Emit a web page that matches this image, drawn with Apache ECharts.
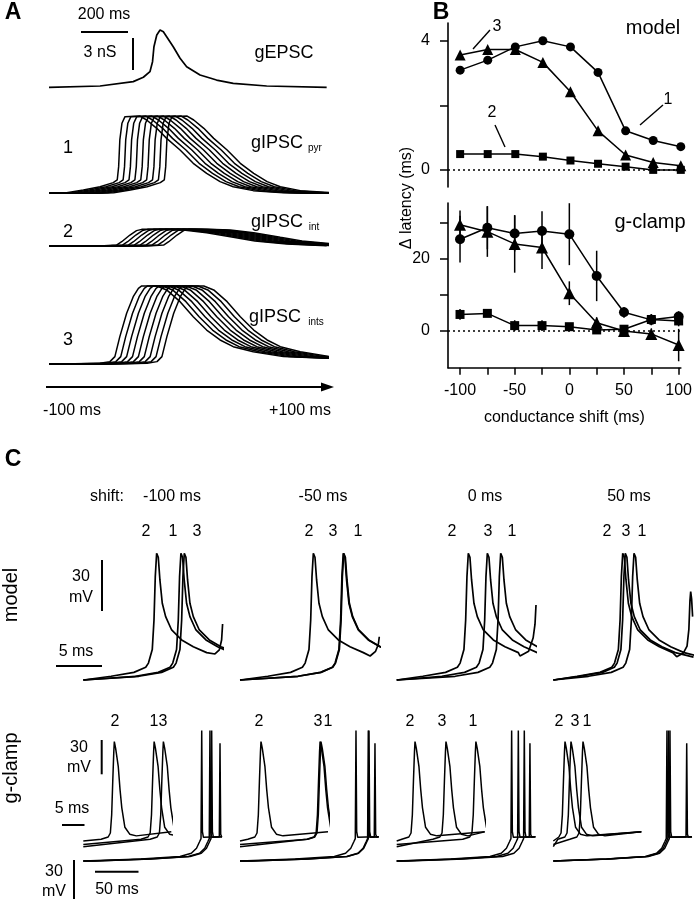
<!DOCTYPE html>
<html><head><meta charset="utf-8">
<script src="https://cdn.jsdelivr.net/npm/echarts@6/dist/echarts.min.js"></script>
<style>html,body{margin:0;padding:0;background:#fff}#c{width:695px;height:900px}</style>
</head><body><div id="c"></div>
<script>
// ================= DATA =================
// Panel B: conductance shifts (ms) and latency changes
const shiftsMs = [-100,-75,-50,-25,0,25,50,75,100];
const modelLat1 = [3.09,3.40,3.81,4.00,3.81,3.02,1.21,0.91,0.72];
const modelLat2 = [0.49,0.49,0.49,0.41,0.29,0.19,0.10,0.00,0.00];
const modelLat3 = [3.56,3.73,3.73,3.33,2.42,1.21,0.46,0.23,0.13];
const clampLat1 = [25.5,28.7,27.1,27.8,26.9,15.3,5.2,3.1,4.0];
const clampLat2 = [4.6,4.9,1.5,1.5,1.2,0.3,0.5,3.2,2.8];
const clampLat3 = [29.5,27.6,24.2,23.2,10.5,2.3,0.0,-0.8,-3.9];
const clampErr1 = [6.5,6.0,5.0,5.5,8.6,7.0,1.5,1.5,1.5];
const clampErr2 = [1.5,1.0,1.5,1.5,1.0,1.0,1.0,1.5,1.5];
const clampErr3 = [4.0,7.0,8.0,6.0,3.3,1.5,1.5,1.5,4.5];
const modelTicks = [0,2,4], modelLabels = [0,4];
const clampTicks = [0,10,20,30], clampLabels = [0,20];
const shiftTicks = [-100,-75,-50,-25,0,25,50,75,100], shiftLabels = [-100,-50,0,50,100];

// Panel A: conductance waveforms (time ms, nS); inhibitory ones are the -100 ms trace
const gEPSC_t  = [0,217,358,401,429,440,446,458,472,486,500,528,557,585,642,712,783,925,1180];
const gEPSC_nS = [0,0.12,0.53,0.94,1.46,2.4,3.8,4.9,5.37,5.2,4.74,3.8,2.72,1.93,1.15,0.68,0.37,0.12,0];
const pyr_t  = [0,75,146,217,273,290,296,301,310,323,387,415,458,500,557,613,670,727,783,868,996,1180];
const pyr_nS = [0,0.06,0.31,0.62,1.0,1.25,2.5,5.0,6.56,7.18,7.24,6.87,6.09,5.15,4.06,2.81,1.87,1.09,0.62,0.25,0.06,0];
const int_t  = [0,217,287,309,344,372,394,472,571,670,783,875,1010,1180];
const int_nS = [0,0,0.09,0.4,1.03,1.44,1.56,1.56,1.5,1.25,0.81,0.47,0.19,0.03];
const ints_t  = [0,217,259,280,301,330,358,380,394,458,500,557,613,670,727,783,868,996,1180];
const ints_nS = [0,0.09,0.25,0.72,2.59,4.78,6.34,7.12,7.34,7.34,6.97,5.87,4.46,3.21,2.28,1.65,1.18,0.72,0.56];

// Panel C: spike waveform shapes (ms relative to peak, mV)
const modelSpikeT = [-5,-2.5,-1.2,-0.9,-0.48,-0.29,-0.15,0,0.18,0.36,0.62,0.99,1.65,2.75,4.03,5.5,7.5];
const modelSpikeV = [-62.8,-60.5,-57.5,-55,-47,-29.5,-4,10,7.6,-5.8,-19.6,-27.5,-35.4,-41.3,-45.3,-48.8,-51.5];
const modelStartV = -65;
// peak times (ms) per shift group [-100,-50,0,50] for traces 1,2,3
const modelPeak1 = [10.73,11.35,11.43,8.87];
const modelPeak2 = [8.06,8.06,7.87,7.63];
const modelPeak3 = [11.1,11.4,9.96,7.91];
const modelTail2T = [[14.47,14.95,15.2,15.31],[14.3,14.9,15.2,15.31],[13.55,14.5,15.0,15.2,15.31],[13.56,14.3,14.7,14.9,15.02,15.1,15.2,15.31]];
const modelTail2V = [[-49.6,-47.2,-41.3,-31.9],[-50.8,-48,-44,-39.4],[-50.8,-48,-40,-32,-20.6],[-51.2,-49,-45,-35,-18,-12.7,-17,-27.5]];

const clampSpikeT = [-3,-1.4,-0.9,-0.6,-0.35,-0.12,0,0.3,0.9,1.3,1.7,2.4,3.5,5];
const clampSpikeV = [-61.5,-59.5,-56,-40,-10,15,24,18,2,-18,-34,-51,-57,-58.5];
const shortStartV = [-66,-63,-68];
const shortEndV = -55;
const shortPeak1 = [16.1,18.4,18.0,6.75];
const shortPeak2 = [7.05,4.77,4.16,2.66];
const shortPeak3 = [18.2,18.2,11.2,4.02];

const longSpikeT = [-135,-70,-25,-12,-6,-2.5,-0.8,0,0.8,2];
const longSpikeV = [-65,-63.5,-61.5,-59,-55,-50,-47.5,37,-42,-46.5];
const secondSpikeT = [-0.8,0,0.8,2];
const secondSpikeV = [-46,27,-44,-46.5];
const longStartV = -65, longEndV = -46;
const longPeak1 = [146.1,148.8,147.2,134.6];
const longPeak2 = [136.6,133.8,132.6,131.1];
const longPeak3 = [148.1,148.0,140.3,132.9];
const longSecond2 = [157.7,155.7,153.7,153.9];

// ================= BUILD =================
const FONT = '"Liberation Sans", Arial, Helvetica, sans-serif';
const chart = echarts.init(document.getElementById('c'), null, {renderer:'canvas', width:695, height:900});
const grids = [], xAxes = [], yAxes = [], series = [], graphics = [];
const zip = (a,b) => a.map((v,i)=>[v,b[i]]);

function addGrid(left, width, xmin, xmax, top, bottom, basePx, baseVal, pxPerUnit){
  const i = grids.length;
  grids.push({left, top, width, height: bottom-top, containLabel:false});
  xAxes.push({type:'value', gridIndex:i, min:xmin, max:xmax, show:false});
  yAxes.push({type:'value', gridIndex:i, show:false,
    min: baseVal - (bottom-basePx)/pxPerUnit, max: baseVal + (basePx-top)/pxPerUnit});
  return i;
}
function trace(gi, pts, w){
  series.push({type:'line', xAxisIndex:gi, yAxisIndex:gi, data:pts, symbol:'none', silent:true,
    animation:false, lineStyle:{color:'#000', width:w||1.3}});
}
function txt(x, y, text, size, opts){
  opts = opts || {};
  graphics.push({type:'text', x, y, rotation: opts.rot||0, silent:true,
    style:{text, fontSize:size, fontFamily:FONT, fontWeight:opts.bold?'bold':'normal', fill:'#000',
      align:opts.align||'center', verticalAlign:'middle'}});
}
function seg(x1,y1,x2,y2,w){
  graphics.push({type:'line', silent:true, shape:{x1,y1,x2,y2}, style:{stroke:'#000', lineWidth:w||2}});
}

// ---------- Panel A ----------
const A_LEFT = 49, A_W = 278, A_PXMS = 0.2353, A_PXNS = 10.67;
const A_XMAX = A_W / A_PXMS;
const gE = addGrid(A_LEFT, A_W, 0, A_XMAX, 20, 95, 87.3, 0, A_PXNS);
trace(gE, zip(gEPSC_t, gEPSC_nS), 1.7);
function shifted(gi, tArr, vArr){
  shiftsMs.forEach(s=>{
    const d = s - shiftsMs[0];
    trace(gi, [[0,vArr[0]]].concat(tArr.map((t,k)=>[t+d, vArr[k]])), 1.5);
  });
}
shifted(addGrid(A_LEFT, A_W, 0, A_XMAX, 105, 200, 193.3, 0, A_PXNS), pyr_t, pyr_nS);
shifted(addGrid(A_LEFT, A_W, 0, A_XMAX, 215, 252, 246, 0, A_PXNS), int_t, int_nS);
shifted(addGrid(A_LEFT, A_W, 0, A_XMAX, 275, 372, 364.3, 0, A_PXNS), ints_t, ints_nS);

txt(13, 13, 'A', 23, {bold:true});
txt(104, 15, '200 ms', 16);
seg(81, 32, 128, 32);
seg(133, 38, 133, 70);
txt(100, 53, '3 nS', 16);
txt(284, 53, 'gEPSC', 18);
txt(277, 143, 'gIPSC', 18); txt(315, 148, 'pyr', 10);
txt(277, 222, 'gIPSC', 18); txt(314, 227, 'int', 10);
txt(275, 317, 'gIPSC', 18); txt(316, 322, 'ints', 10);
txt(68, 148, '1', 18); txt(68, 232, '2', 18); txt(68, 340, '3', 18);
seg(46, 387, 324, 387, 2);
graphics.push({type:'polygon', silent:true, shape:{points:[[334,387],[321,382.5],[321,391.5]]}, style:{fill:'#000'}});
txt(72, 411, '-100 ms', 16);
txt(300, 411, '+100 ms', 16);

// ---------- Panel B ----------
const B_XMIN = -111, B_XMAX = 102, B_LEFT = 448, B_W = 235;
const axLine = {show:true, onZero:false, lineStyle:{color:'#000', width:1.6}};
const bTop = grids.length;
grids.push({left:B_LEFT, top:23, width:B_W, height:164});
xAxes.push({type:'value', gridIndex:bTop, min:B_XMIN, max:B_XMAX, show:false, axisLine:{onZero:false}});
yAxes.push({type:'value', gridIndex:bTop, min:-0.53, max:4.55, splitLine:{show:false},
  axisLine:axLine, axisTick:{show:true, length:8, lineStyle:{color:'#000', width:1.5}, customValues:modelTicks},
  axisLabel:{color:'#000', fontSize:16, fontFamily:FONT, margin:18, customValues:modelLabels}});
const bBot = grids.length;
grids.push({left:B_LEFT, top:203, width:B_W, height:164.7});
xAxes.push({type:'value', gridIndex:bBot, min:B_XMIN, max:B_XMAX, splitLine:{show:false},
  axisLine:axLine, axisTick:{show:true, length:7, lineStyle:{color:'#000', width:1.5}, customValues:shiftTicks},
  axisLabel:{color:'#000', fontSize:16, fontFamily:FONT, margin:15, customValues:shiftLabels},
  name:'conductance shift (ms)', nameLocation:'middle', nameGap:42,
  nameTextStyle:{color:'#000', fontSize:16, fontFamily:FONT}});
yAxes.push({type:'value', gridIndex:bBot, min:-10.19, max:35.56, splitLine:{show:false},
  axisLine:axLine, axisTick:{show:true, length:8, lineStyle:{color:'#000', width:1.5}, customValues:clampTicks},
  axisLabel:{color:'#000', fontSize:16, fontFamily:FONT, margin:18, customValues:clampLabels}});

[bTop, bBot].forEach(gi=>{
  series.push({type:'line', xAxisIndex:gi, yAxisIndex:gi, data:[[B_XMIN,0],[112.7,0]], clip:false,
    symbol:'none', silent:true, animation:false, z:1, lineStyle:{color:'#000', width:1.5, type:[2,3]}});
});
function errBars(gi, vals, errs){
  series.push({type:'custom', xAxisIndex:gi, yAxisIndex:gi, silent:true, animation:false, z:2,
    data: shiftsMs.map((s,i)=>[s, vals[i], errs[i]]),
    renderItem:(p, api)=>{
      const a = api.coord([api.value(0), api.value(1)-api.value(2)]);
      const b = api.coord([api.value(0), api.value(1)+api.value(2)]);
      return {type:'line', shape:{x1:a[0],y1:a[1],x2:b[0],y2:b[1]}, style:{stroke:'#000', lineWidth:1.5}};
    }});
}
function latSeries(gi, vals, sym, size){
  series.push({type:'line', xAxisIndex:gi, yAxisIndex:gi, data:zip(shiftsMs, vals), symbol:sym, symbolSize:size,
    silent:true, animation:false, z:3, itemStyle:{color:'#000'}, lineStyle:{color:'#000', width:1.5}});
}
latSeries(bTop, modelLat2, 'rect', 8);
latSeries(bTop, modelLat3, 'triangle', 11);
latSeries(bTop, modelLat1, 'circle', 9);
errBars(bBot, clampLat1, clampErr1);
errBars(bBot, clampLat2, clampErr2);
errBars(bBot, clampLat3, clampErr3);
latSeries(bBot, clampLat2, 'rect', 9);
latSeries(bBot, clampLat3, 'triangle', 12);
latSeries(bBot, clampLat1, 'circle', 10);

txt(441, 13, 'B', 23, {bold:true});
txt(653, 28, 'model', 20);
txt(650, 222, 'g-clamp', 20);
txt(497, 27, '3', 16); seg(473, 49, 490, 30, 1.4);
txt(492, 113, '2', 16); seg(495, 125, 505, 147, 1.4);
txt(668, 100, '1', 16); seg(640, 125, 663, 105, 1.4);
txt(407, 198, 'Δ latency (ms)', 16, {rot:Math.PI/2});

// ---------- Panel C ----------
const groupLeft = [83.3, 240, 396.7, 553.3];
function spikeTrace(v0, peak, shT, shV, tailT, tailV, endT, endV){
  const pts = [[0, v0]];
  const cut = tailT ? tailT[0] : Infinity;
  shT.forEach((rt,k)=>{ const t = peak + rt; if (t > 0 && t < cut) pts.push([t, shV[k]]); });
  if (tailT) tailT.forEach((t,k)=>pts.push([t, tailV[k]]));
  else if (endT != null && pts[pts.length-1][0] < endT) pts.push([endT, endV]);
  return pts;
}
for (let g = 0; g < 4; g++){
  const gm = addGrid(groupLeft[g], 139.3, 0, 15.31, 540, 690, 680, -65, 1.69);
  trace(gm, spikeTrace(modelStartV, modelPeak1[g], modelSpikeT, modelSpikeV), 1.7);
  trace(gm, spikeTrace(modelStartV, modelPeak2[g], modelSpikeT, modelSpikeV, modelTail2T[g], modelTail2V[g]), 1.7);
  trace(gm, spikeTrace(modelStartV, modelPeak3[g], modelSpikeT, modelSpikeV), 1.7);

  const gs = addGrid(groupLeft[g], 88, 0, 20, 715, 855, 843.3, -65, 1.143);
  [shortPeak1, shortPeak2, shortPeak3].forEach((pk, j)=>{
    trace(gs, spikeTrace(shortStartV[j], pk[g], clampSpikeT, clampSpikeV, null, null, 20, shortEndV), 1.5);
  });

  const gl = addGrid(groupLeft[g], 138.7, 0, 160, 715, 870, 861, -65, 1.28);
  [longPeak1, longPeak2, longPeak3].forEach((pk, j)=>{
    let pts = spikeTrace(longStartV, pk[g], longSpikeT, longSpikeV);
    if (j === 1) secondSpikeT.forEach((rt,k)=>pts.push([longSecond2[g]+rt, secondSpikeV[k]]));
    pts.push([160, longEndV]);
    trace(gl, pts, 1.5);
  });
}
txt(13, 460, 'C', 23, {bold:true});
txt(107, 497, 'shift:', 16);
txt(172, 497, '-100 ms', 16); txt(323, 497, '-50 ms', 16); txt(485, 497, '0 ms', 16); txt(629, 497, '50 ms', 16);
const modelNumX = [[146,'2'],[173,'1'],[197,'3'],[309,'2'],[333,'3'],[358,'1'],[452,'2'],[488,'3'],[512,'1'],[607,'2'],[626,'3'],[642,'1']];
modelNumX.forEach(([x,s])=>txt(x, 532, s, 16));
const clampNumX = [[115,'2'],[154,'1'],[163,'3'],[259,'2'],[318,'3'],[328,'1'],[410,'2'],[442,'3'],[473,'1'],[559,'2'],[575,'3'],[587,'1']];
clampNumX.forEach(([x,s])=>txt(x, 722, s, 16));
txt(11, 595, 'model', 20, {rot:Math.PI/2});
txt(11, 768, 'g-clamp', 20, {rot:Math.PI/2});
// scale bars
txt(81, 577, '30', 16); txt(81, 598, 'mV', 16);
seg(102, 560, 102, 611);
txt(76, 652, '5 ms', 16); seg(56, 666, 102, 666);
txt(79, 748, '30', 16); txt(79, 768, 'mV', 16);
seg(101.7, 740, 101.7, 774.3);
txt(72, 809, '5 ms', 16); seg(62, 825, 84.5, 825);
txt(54, 872, '30', 16); txt(54, 892, 'mV', 16);
seg(74, 860, 74, 899);
txt(117, 890, '50 ms', 16); seg(95, 871.7, 138.5, 871.7);

chart.setOption({
  animation:false,
  backgroundColor:'#fff',
  textStyle:{fontFamily:FONT},
  grid:grids, xAxis:xAxes, yAxis:yAxes, series:series, graphic:graphics
});
</script></body></html>
